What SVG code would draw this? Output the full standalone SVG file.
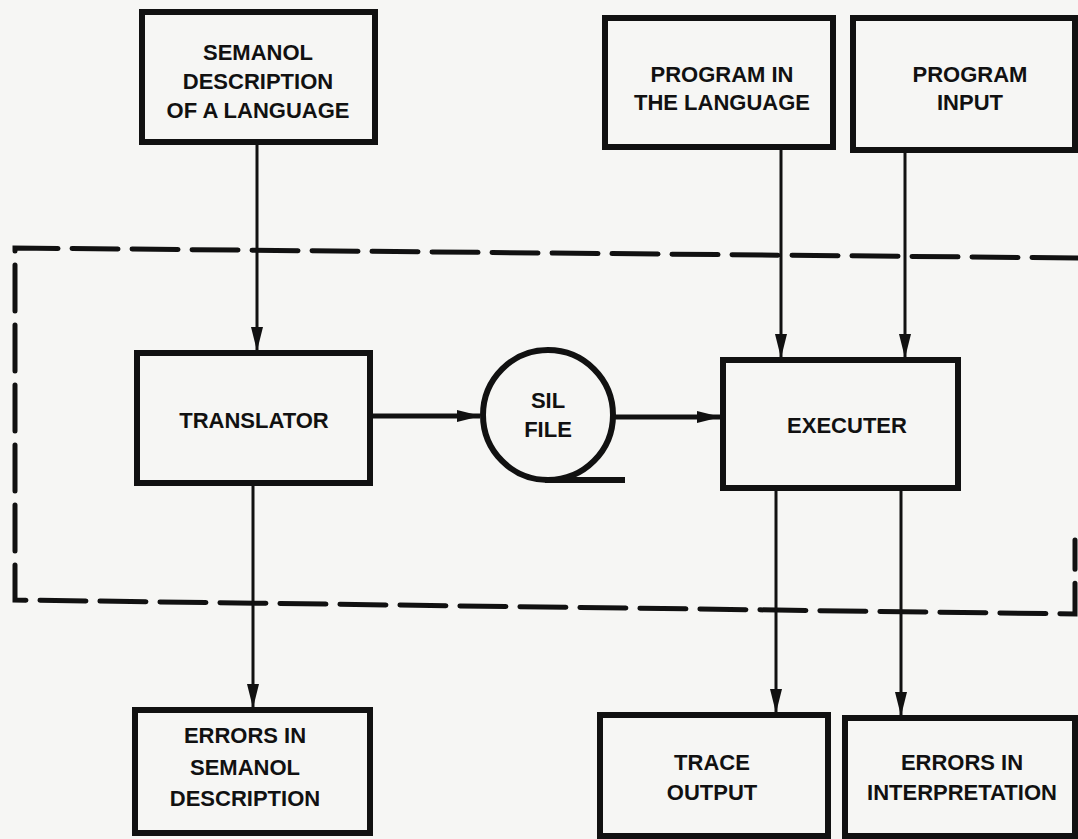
<svg xmlns="http://www.w3.org/2000/svg" width="1078" height="839" viewBox="0 0 1078 839">
  <style>
    .box { fill: none; stroke: #111; stroke-width: 6; stroke-linejoin: miter; }
    .lbl { font-family: "Liberation Sans", Arial, sans-serif; font-weight: bold; font-size: 22px; fill: #111; text-anchor: middle; }
    .conn { stroke: #111; stroke-width: 3; fill: none; }
    .thick { stroke-width: 5; }
    .dash { stroke: #111; stroke-width: 5; fill: none; stroke-dasharray: 46 14; stroke-linecap: round; }
  </style>
  <defs>
    <marker id="arr" markerUnits="userSpaceOnUse" markerWidth="24" markerHeight="12" refX="23" refY="6" orient="auto">
      <path d="M0,0 L24,6 L0,12 z" fill="#111"/>
    </marker>
  </defs>
  <rect x="0" y="0" width="1078" height="839" fill="#f6f6f4"/>

  <g id="boundary">
    <path class="dash" d="M1078,258 L15,248 L15,600 L1075,614 L1075,540"/>
  </g>

  <g id="connectors">
    <line class="conn" x1="257" y1="145" x2="257" y2="350" marker-end="url(#arr)"/>
    <line class="conn thick" x1="373" y1="416" x2="480" y2="416" marker-end="url(#arr)"/>
    <line class="conn thick" x1="615" y1="417" x2="720" y2="417" marker-end="url(#arr)"/>
    <line class="conn" x1="781" y1="150" x2="781" y2="357" marker-end="url(#arr)"/>
    <line class="conn" x1="905" y1="153" x2="905" y2="357" marker-end="url(#arr)"/>
    <line class="conn" x1="253" y1="486" x2="253" y2="707" marker-end="url(#arr)"/>
    <line class="conn" x1="776" y1="491" x2="776" y2="712" marker-end="url(#arr)"/>
    <line class="conn" x1="901" y1="491" x2="901" y2="715" marker-end="url(#arr)"/>
  </g>

  <g id="n-semanol">
    <rect class="box" x="142" y="12" width="233" height="130"/>
    <text class="lbl" x="258" y="60">SEMANOL</text>
    <text class="lbl" x="258" y="89">DESCRIPTION</text>
    <text class="lbl" x="258" y="118">OF A LANGUAGE</text>
  </g>
  <g id="n-program">
    <rect class="box" x="605" y="18" width="228" height="129"/>
    <text class="lbl" x="722" y="82">PROGRAM IN</text>
    <text class="lbl" x="722" y="110">THE LANGUAGE</text>
  </g>
  <g id="n-input">
    <rect class="box" x="853" y="18" width="222" height="132"/>
    <text class="lbl" x="970" y="82">PROGRAM</text>
    <text class="lbl" x="970" y="110">INPUT</text>
  </g>
  <g id="n-translator">
    <rect class="box" x="137" y="353" width="233" height="130"/>
    <text class="lbl" x="254" y="428">TRANSLATOR</text>
  </g>
  <g id="n-sil">
    <circle class="box" cx="548" cy="415" r="65"/>
    <line class="box" x1="545" y1="480" x2="625" y2="480"/>
    <text class="lbl" x="548" y="408">SIL</text>
    <text class="lbl" x="548" y="437">FILE</text>
  </g>
  <g id="n-executer">
    <rect class="box" x="723" y="360" width="235" height="128"/>
    <text class="lbl" x="847" y="433">EXECUTER</text>
  </g>
  <g id="n-err-semanol">
    <rect class="box" x="135" y="710" width="235" height="123"/>
    <text class="lbl" x="245" y="743">ERRORS IN</text>
    <text class="lbl" x="245" y="775">SEMANOL</text>
    <text class="lbl" x="245" y="806">DESCRIPTION</text>
  </g>
  <g id="n-trace">
    <rect class="box" x="600" y="715" width="228" height="121"/>
    <text class="lbl" x="712" y="770">TRACE</text>
    <text class="lbl" x="712" y="800">OUTPUT</text>
  </g>
  <g id="n-err-interp">
    <rect class="box" x="845" y="718" width="230" height="118"/>
    <text class="lbl" x="962" y="770">ERRORS IN</text>
    <text class="lbl" x="962" y="800">INTERPRETATION</text>
  </g>
</svg>
